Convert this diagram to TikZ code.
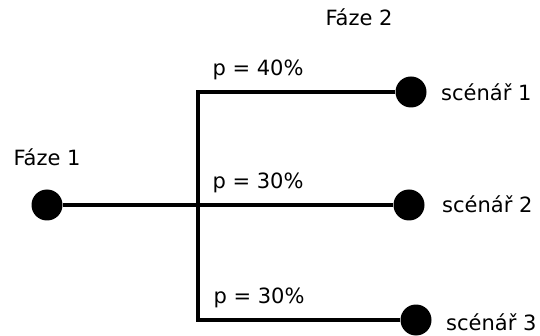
\documentclass[tikz,border=0pt]{standalone}
\usepackage{fontspec}
\setmainfont{DejaVu Sans}
\tikzset{
  dot/.style={circle, fill=black, inner sep=0pt, minimum size=31pt},
  lbl/.style={font=\fontsize{21}{25}\selectfont, inner sep=0pt},
  branch/.style={black, line width=3.3pt}
}

\begin{document}
\begin{tikzpicture}[x=1pt,y=1pt]
\useasboundingbox (0,0) rectangle (540,-336);
\node[dot] (f1) at (47,-205) {};
\node[dot] (s1) at (411,-92) {};
\node[dot] (s2) at (409,-205) {};
\node[dot] (s3) at (416,-320) {};
\coordinate (top) at (198,-92);
\coordinate (bot) at (198,-320);
\draw[branch] (f1) -- (s2);
\draw[branch, line join=miter] (s1) -- (top) -- (bot) -- (s3);
\node[lbl] (faze1) at (47,-157) {Fáze 1};
\node[lbl] (faze2) at (359,-17) {Fáze 2};
\node[lbl] (p1) at (258,-70) {p = 40\%};
\node[lbl] (p2) at (258,-183) {p = 30\%};
\node[lbl] (p3) at (259,-298) {p = 30\%};
\node[lbl, anchor=west] (sc1) at (441,-92) {scénář 1};
\node[lbl, anchor=west] (sc2) at (442,-204) {scénář 2};
\node[lbl, anchor=west] (sc3) at (446,-322) {scénář 3};
\end{tikzpicture}
\end{document}
